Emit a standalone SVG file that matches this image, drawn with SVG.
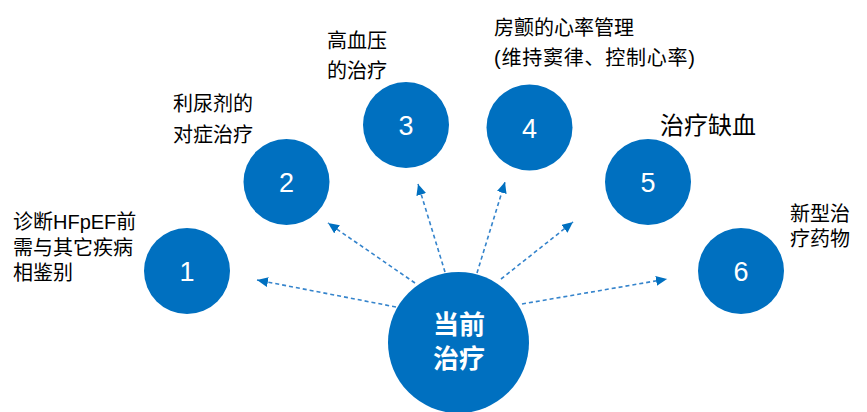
<svg xmlns="http://www.w3.org/2000/svg" width="867" height="412" viewBox="0 0 867 412">
<style>
.node{fill:#0070C0}
.num{fill:#fff;font-family:"Liberation Sans",Arial,sans-serif;font-size:27px;text-anchor:middle}
.lbl{fill:#000;font-family:"Liberation Sans","Noto Sans CJK SC",sans-serif;font-size:20px}
.ctr{fill:#fff;font-family:"Noto Sans CJK SC",sans-serif;font-size:26px;font-weight:bold;text-anchor:middle}
.conn{stroke:#3584CC;stroke-width:1.6;stroke-dasharray:4 3;fill:none}
</style>
<defs>
<marker id="ah" markerUnits="userSpaceOnUse" markerWidth="12" markerHeight="10" refX="11" refY="5" orient="auto">
<path d="M0,0 L11,5 L0,10 Z" fill="#0070C0"/>
</marker>
</defs>
<g id="connectors">
<line class="conn" x1="396" y1="307" x2="257" y2="280" marker-end="url(#ah)"/>
<line class="conn" x1="415" y1="283" x2="328" y2="223" marker-end="url(#ah)"/>
<line class="conn" x1="445" y1="272" x2="418" y2="184" marker-end="url(#ah)"/>
<line class="conn" x1="477" y1="273" x2="505" y2="182" marker-end="url(#ah)"/>
<line class="conn" x1="501" y1="279" x2="573" y2="222" marker-end="url(#ah)"/>
<line class="conn" x1="522" y1="304" x2="667" y2="279" marker-end="url(#ah)"/>
</g>
<g id="center">
<circle class="node" cx="458.5" cy="342.5" r="70.5"/>
<text class="ctr" x="459" y="334">当前</text>
<text class="ctr" x="459" y="368">治疗</text>
</g>
<g id="n1">
<circle class="node" cx="187" cy="271" r="43"/>
<text class="num" x="187" y="281">1</text>
<text class="lbl" x="13" y="229">诊断HFpEF前</text>
<text class="lbl" x="13" y="255">需与其它疾病</text>
<text class="lbl" x="13" y="280">相鉴别</text>
</g>
<g id="n2">
<circle class="node" cx="286.5" cy="182" r="43"/>
<text class="num" x="286.5" y="192">2</text>
<text class="lbl" x="173" y="111">利尿剂的</text>
<text class="lbl" x="173" y="142">对症治疗</text>
</g>
<g id="n3">
<circle class="node" cx="406" cy="125" r="43"/>
<text class="num" x="406" y="135">3</text>
<text class="lbl" x="327" y="48">高血压</text>
<text class="lbl" x="327" y="78">的治疗</text>
</g>
<g id="n4">
<circle class="node" cx="529.5" cy="127.5" r="43"/>
<text class="num" x="529.5" y="137.5">4</text>
<text class="lbl" x="494" y="35">房颤的心率管理</text>
<text class="lbl" x="494" y="65" textLength="201" lengthAdjust="spacing">(维持窦律、控制心率)</text>
</g>
<g id="n5">
<circle class="node" cx="648" cy="182" r="43"/>
<text class="num" x="648" y="192">5</text>
<text class="lbl" x="660" y="134" style="font-size:24px">治疗缺血</text>
</g>
<g id="n6">
<circle class="node" cx="741" cy="271" r="43"/>
<text class="num" x="741" y="281">6</text>
<text class="lbl" x="790" y="221">新型治</text>
<text class="lbl" x="790" y="246">疗药物</text>
</g>
</svg>
